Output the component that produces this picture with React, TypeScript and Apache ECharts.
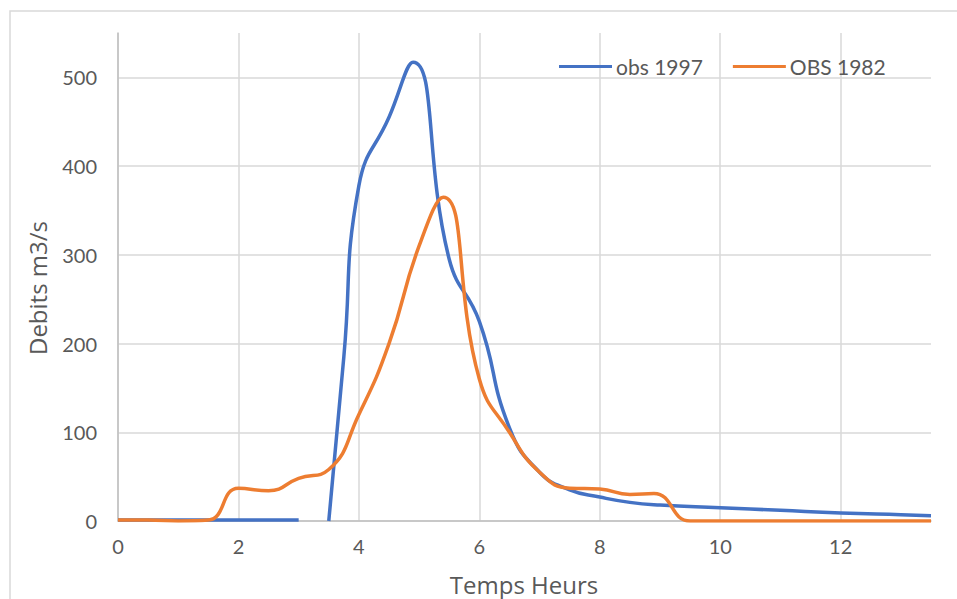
import React, { useEffect, useRef } from "react";
import * as echarts from "echarts";

// Débits observés (temps en heures, débit en m3/s) ; null = pas de mesure
const obs1997Time = [0, 1, 2, 3, 3.25, 3.5, 3.75, 4, 4.5, 4.9, 5.5, 6, 6.5, 7, 7.5, 8, 8.5, 9, 10, 11, 12, 13, 13.5];
const obs1997Flow = [1, 1, 1, 1, null, 0, 185, 378, 455, 517, 295, 225, 105, 55, 35, 27, 21, 18, 15, 12, 9, 7, 6];

const obs1982Time = [0, 0.5, 1, 1.5, 2, 2.5, 3, 3.5, 4, 4.5, 5, 5.4, 6, 6.5, 7, 7.5, 8, 8.5, 8.9, 9.5, 10, 11, 12, 13, 13.5];
const obs1982Flow = [1, 1, 0, 1, 37, 34, 48, 58, 120, 200, 310, 365, 160, 100, 55, 37, 36, 30, 31, 0, 0, 0, 0, 0, 0];

const xTicks = [0, 2, 4, 6, 8, 10, 12];
const yTicks = [0, 100, 200, 300, 400, 500];

const seriesNames = ["obs 1997", "OBS 1982"];
const xTitle = "Temps Heurs";
const yTitle = "Debits m3/s";

const pair = (t: number[], v: (number | null)[]) => t.map((x, i) => [x, v[i] === null ? "-" : v[i]]);

export default function App() {
  const ref = useRef<HTMLDivElement>(null);

  useEffect(() => {
    if (!ref.current) return;
    const chart = echarts.init(ref.current, undefined, { renderer: "svg" });
    const labelFont = "Lato, 'Liberation Sans', sans-serif";
    const titleFont = "'Open Sans', sans-serif";
    chart.setOption({
      animation: false,
      backgroundColor: "#ffffff",
      grid: { left: 118, right: 26, top: 33, bottom: 78, containLabel: false },
      graphic: [
        {
          type: "rect",
          shape: { x: 10, y: 11, width: 960, height: 600 },
          style: { fill: "none", stroke: "#d9d9d9", lineWidth: 1.5 },
          silent: true,
        },
        {
          type: "text",
          x: 524,
          y: 584,
          style: {
            text: xTitle,
            fill: "#595959",
            font: `24px ${titleFont}`,
            align: "center",
            verticalAlign: "middle",
          },
        },
        {
          type: "text",
          x: 37,
          y: 288,
          rotation: Math.PI / 2,
          style: {
            text: yTitle,
            fill: "#595959",
            font: `24px ${titleFont}`,
            align: "center",
            verticalAlign: "middle",
          },
        },
      ],
      legend: {
        data: seriesNames,
        left: 554,
        top: 51,
        icon: "rect",
        itemWidth: 53,
        itemHeight: 3,
        itemGap: 30,
        textStyle: { color: "#595959", fontSize: 21, fontFamily: labelFont, padding: [0, 0, 0, -1] },
      },
      xAxis: {
        type: "value",
        min: 0,
        max: 13.5,
        interval: 2,
        axisLine: { show: true, lineStyle: { color: "#bfbfbf", width: 1.5 } },
        axisTick: { show: false },
        axisLabel: {
          color: "#595959",
          fontSize: 20,
          fontFamily: labelFont,
          margin: 15,
          showMaxLabel: false,
          formatter: (v: number) => (xTicks.includes(v) ? String(v) : ""),
        },
        splitLine: { show: true, showMaxLine: false, lineStyle: { color: "#d9d9d9", width: 1.5 } },
      },
      yAxis: {
        type: "value",
        min: 0,
        max: 550,
        interval: 100,
        axisLine: { show: true, lineStyle: { color: "#bfbfbf", width: 1.5 } },
        axisTick: { show: false },
        axisLabel: {
          color: "#595959",
          fontSize: 20,
          fontFamily: labelFont,
          margin: 21,
          showMaxLabel: false,
          formatter: (v: number) => (yTicks.includes(v) ? String(v) : ""),
        },
        splitLine: { show: true, showMaxLine: false, lineStyle: { color: "#d9d9d9", width: 1.5 } },
      },
      series: [
        {
          name: seriesNames[0],
          type: "line",
          data: pair(obs1997Time, obs1997Flow),
          smooth: 0.5,
          connectNulls: false,
          symbol: "none",
          clip: true,
          lineStyle: { color: "#4472c4", width: 3.5 },
          itemStyle: { color: "#4472c4" },
        },
        {
          name: seriesNames[1],
          type: "line",
          data: pair(obs1982Time, obs1982Flow),
          smooth: 0.5,
          symbol: "none",
          clip: true,
          lineStyle: { color: "#ed7d31", width: 3.5 },
          itemStyle: { color: "#ed7d31" },
        },
      ],
    });
    return () => chart.dispose();
  }, []);

  return <div ref={ref} style={{ width: 957, height: 599, position: "absolute", left: 0, top: 0 }} />;
}
